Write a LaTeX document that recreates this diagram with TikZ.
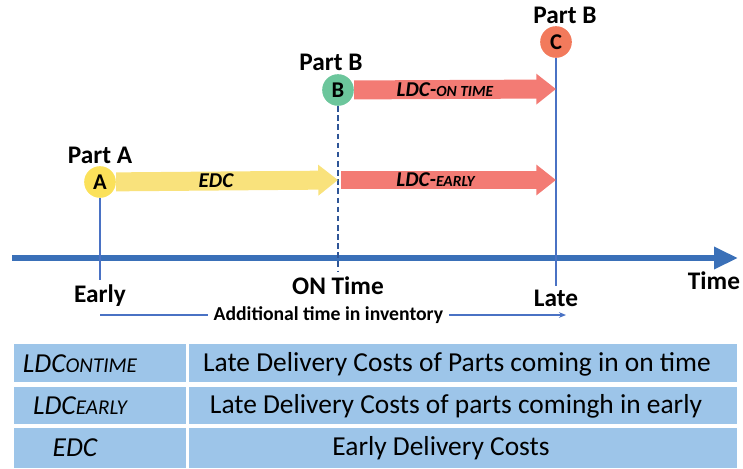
\documentclass[tikz,border=0pt]{standalone}
\usepackage{fontspec}
\setmainfont{Carlito}
\usepackage{tikz}
\usetikzlibrary{arrows.meta}

\definecolor{axisblue}{HTML}{3A70B8}
\definecolor{tickblue}{HTML}{4A72C4}
\definecolor{dashblue}{HTML}{2E5597}
\definecolor{dotyellow}{HTML}{FBE15A}
\definecolor{dotgreen}{HTML}{6CC69C}
\definecolor{dotorange}{HTML}{F27A5C}
\definecolor{edcyellow}{HTML}{F9E27C}
\definecolor{ldcred}{HTML}{F37B74}
\definecolor{cellblue}{HTML}{9DC5E9}

\newcommand{\smallcap}[1]{{\fontsize{11}{12}\selectfont #1}}
\newcommand{\tabcap}[1]{{\fontsize{15}{16}\selectfont #1}}

\begin{document}
\begin{tikzpicture}[x=0.025cm,y=-0.025cm,
	partdot/.style={circle, inner sep=0pt, minimum size=22.5pt,
		font=\fontsize{16}{18}\selectfont\bfseries},
	partlabel/.style={font=\fontsize{18}{20}\selectfont\bfseries},
	timelabel/.style={font=\fontsize{18}{20}\selectfont\bfseries},
	costarrow/.style={line width=13.5pt, -{Triangle[length=14pt, width=21pt]}},
	costlabel/.style={font=\fontsize{15}{17}\selectfont\bfseries\itshape},
	tickline/.style={draw=tickblue, line width=1.3pt},
	cell/.style={fill=cellblue}]

	\useasboundingbox (0,0) rectangle (743,468);

	% time axis
	\coordinate (axstart) at (12,258);
	\coordinate (axend) at (738,258);
	\draw[axisblue, line width=4.2pt, -{Triangle[length=17pt, width=15pt]}] (axstart) -- (axend);
	\node[timelabel] (time) at (714,281) {Time};

	% parts
	\node[partdot, fill=dotyellow] (A) at (100,182) {A};
	\node[partdot, fill=dotgreen] (B) at (338,90) {B};
	\node[partdot, fill=dotorange] (C) at (556,42) {C};
	\node[partlabel] (partA) at (100,155) {Part A};
	\node[partlabel] (partB) at (331,62) {Part B};
	\node[partlabel] (partC) at (565,15) {Part B};

	% ticks down to the axis
	\coordinate (early) at (100,280);
	\coordinate (ontime) at (338,272);
	\coordinate (late) at (556,286);
	\draw[tickline] (A) -- (early);
	\draw[draw=dashblue, line width=2pt, dash pattern=on 4pt off 2.5pt] (B) -- (ontime);
	\draw[tickline] (C) -- (late);
	\node[timelabel] (earlylbl) at (100,296) {Early};
	\node[timelabel] (ontimelbl) at (338,286) {ON Time};
	\node[timelabel] (latelbl) at (556,298) {Late};

	% cost arrows
	\coordinate (edcend) at (338,180);
	\coordinate (ldcstart) at (341,180);
	\coordinate (ldcend) at (556,180);
	\coordinate (ldconend) at (556,89);
	\draw[costarrow, edcyellow] (A) -- (edcend)
		node[costlabel, text=black, pos=0.45] (edc) {EDC};
	\draw[costarrow, ldcred] (ldcstart) -- (ldcend)
		node[costlabel, text=black, pos=0.44] (ldcearly) {LDC-\smallcap{EARLY}};
	\draw[costarrow, ldcred] (B) -- (ldconend)
		node[costlabel, text=black, pos=0.45] (ldcon) {LDC-\smallcap{ON TIME}};

	% extra time in stock
	\coordinate (invstart) at (100,315);
	\coordinate (invend) at (566,315);
	\draw[tickline, -{Stealth[length=5pt, width=4pt]}] (invstart) -- (invend)
		node[pos=0.49, fill=white, inner xsep=4pt, inner ysep=1pt,
			font=\fontsize{14}{16}\selectfont\bfseries] (invlbl) {Additional time in inventory};

	% legend table
	\fill[cell] (14,344) rectangle (186,382);
	\fill[cell] (189,344) rectangle (737,382);
	\fill[cell] (14,387) rectangle (186,424);
	\fill[cell] (189,387) rectangle (737,424);
	\fill[cell] (14,428) rectangle (186,468);
	\fill[cell] (189,428) rectangle (737,468);
	\begin{scope}[every node/.style={font=\fontsize{19.5}{21}\selectfont}]
		\node (key1) at (80,364) {\itshape LDC\tabcap{ONTIME}};
		\node (key2) at (80,406) {\itshape LDC\tabcap{EARLY}};
		\node (key3) at (75,448) {\itshape EDC};
		\node (txt1) at (457,364) {Late Delivery Costs of Parts coming in on time};
		\node (txt2) at (456,406) {Late Delivery Costs of parts comingh in early};
		\node (txt3) at (441,448) {Early Delivery Costs};
	\end{scope}
\end{tikzpicture}
\end{document}
